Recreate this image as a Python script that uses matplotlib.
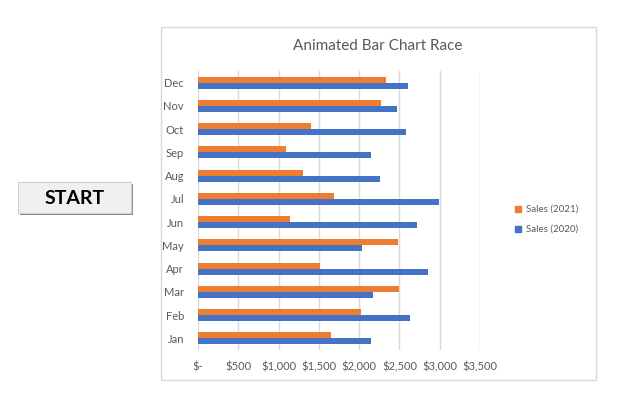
import matplotlib.pyplot as plt
from matplotlib.patches import Rectangle
import numpy as np

# Chart data
months = ['Jan', 'Feb', 'Mar', 'Apr', 'May', 'Jun', 'Jul', 'Aug', 'Sep', 'Oct', 'Nov', 'Dec']
sales_2021 = [1646, 2017, 2500, 1510, 2488, 1139, 1683, 1300, 1089, 1398, 2277, 2339]
sales_2020 = [2141, 2636, 2178, 2859, 2030, 2723, 2995, 2265, 2141, 2587, 2475, 2611]
xticks = [0, 500, 1000, 1500, 2000, 2500, 3000, 3500]
xtick_labels = ['$-', '$500', '$1,000', '$1,500', '$2,000', '$2,500', '$3,000', '$3,500']

orange = '#ED7D31'
blue = '#4472C4'
grey_text = '#595959'

plt.rcParams['font.family'] = ['Lato', 'DejaVu Sans']

W, H = 623, 404
fig = plt.figure(figsize=(W / 100, H / 100), dpi=100)

# chart area frame
fig.patches.append(Rectangle((161 / W, 1 - 380 / H), (596 - 161) / W, (380 - 27) / H,
                             transform=fig.transFigure, fill=False,
                             edgecolor='#d9d9d9', linewidth=1))

ax = fig.add_axes([198 / W, 1 - 350 / H, 282 / W, 279 / H])
y = np.arange(len(months))
h = 0.26
ax.barh(y + h / 2, sales_2021, height=h, color=orange, label='Sales (2021)', zorder=3)
ax.barh(y - h / 2, sales_2020, height=h, color=blue, label='Sales (2020)', zorder=3)

ax.set_xlim(0, 3500)
ax.set_ylim(-0.5, len(months) - 0.5)
ax.set_xticks(xticks)
ax.set_xticklabels(xtick_labels, color=grey_text, fontsize=8)
ax.set_yticks(y)
ax.set_yticklabels(months, color=grey_text, fontsize=8)
ax.tick_params(length=0, pad=8)
ax.tick_params(axis='y', pad=10)
ax.grid(axis='x', color='#d9d9d9', linewidth=1, zorder=0)
for s in ax.spines.values():
    s.set_visible(False)

fig.text(378 / W, 1 - 46 / H, 'Animated Bar Chart Race', ha='center', va='center',
         fontsize=11, color=grey_text)

# legend
fig.patches.append(Rectangle((515 / W, 1 - 212 / H), 6 / W, 6 / H,
                             transform=fig.transFigure, color=orange))
fig.patches.append(Rectangle((515 / W, 1 - 232 / H), 6 / W, 6 / H,
                             transform=fig.transFigure, color=blue))
fig.text(526 / W, 1 - 209 / H, 'Sales (2021)', va='center', fontsize=7, color=grey_text)
fig.text(526 / W, 1 - 229 / H, 'Sales (2020)', va='center', fontsize=7, color=grey_text)

# START button
fig.patches.append(Rectangle((20 / W, 1 - 215 / H), 113 / W, 31 / H,
                             transform=fig.transFigure, facecolor='#8c8c8c',
                             edgecolor='none'))
fig.patches.append(Rectangle((18 / W, 1 - 213 / H), 113 / W, 31 / H,
                             transform=fig.transFigure, facecolor='#f0f0f0',
                             edgecolor='#d0d0d0', linewidth=0.8))
fig.text(75 / W, 1 - 199 / H, 'START', ha='center', va='center',
         fontsize=14, fontweight='bold', color='black')

fig.savefig('out.png', dpi=100)
